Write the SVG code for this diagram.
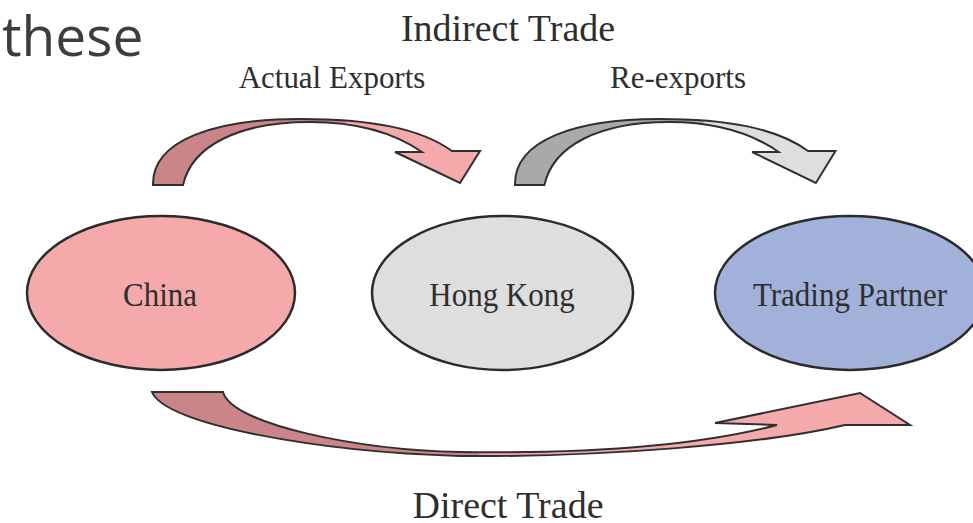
<svg xmlns="http://www.w3.org/2000/svg" xmlns:xlink="http://www.w3.org/1999/xlink" width="973" height="523" viewBox="0 0 973 523">
  <style>
    .node { stroke: #2b2b2b; stroke-width: 2.5; }
    .label { font-family: "Liberation Serif", "Times New Roman", serif; fill: #2e2e2e; text-anchor: middle; }
    .nodeText { font-size: 31px; }
    .title { font-size: 38px; }
    .sub { font-size: 31px; }
    .ribbon { stroke: #2f2f2f; stroke-width: 2; stroke-linejoin: miter; }
  </style>
  <defs>
    <!-- left half of each twisted ribbon is shaded darker than the head half -->
    <linearGradient id="pinkShade" gradientUnits="userSpaceOnUse" x1="0" y1="0" x2="973" y2="0">
      <stop offset="0" stop-color="#c98587"/>
      <stop offset="0.354" stop-color="#c98587"/>
      <stop offset="0.356" stop-color="#f4a9ab"/>
      <stop offset="1" stop-color="#f4a9ab"/>
    </linearGradient>
    <linearGradient id="grayShade" gradientUnits="userSpaceOnUse" x1="0" y1="0" x2="973" y2="0">
      <stop offset="0" stop-color="#a9a9a9"/>
      <stop offset="0.354" stop-color="#a9a9a9"/>
      <stop offset="0.356" stop-color="#dedede"/>
      <stop offset="1" stop-color="#dedede"/>
    </linearGradient>
    <linearGradient id="pinkShadeLong" gradientUnits="userSpaceOnUse" x1="0" y1="0" x2="973" y2="0">
      <stop offset="0" stop-color="#c98587"/>
      <stop offset="0.49" stop-color="#c98587"/>
      <stop offset="0.495" stop-color="#f4a9ab"/>
      <stop offset="1" stop-color="#f4a9ab"/>
    </linearGradient>
    <!-- arched ribbon arrow, base at lower left, head pointing down to the right -->
    <path id="archArrow" d="M153,185 C152,140 215,119 300,119 C370,119 420,128 452,151 L480,151 L460,183 L395,152 L422,152 C390,130 350,122 310,122 C240,122 192,145 183,185 Z"/>
  </defs>

  <rect width="973" height="523" fill="#ffffff"/>

  <text x="2" y="56" font-family="'Open Sans', 'Noto Sans', sans-serif" font-size="55" fill="#3d3d3d">these</text>

  <g id="connectors">
    <g id="actual-exports">
      <use xlink:href="#archArrow" class="ribbon" fill="url(#pinkShade)"/>
    </g>
    <g id="re-exports">
      <use xlink:href="#archArrow" class="ribbon" fill="url(#grayShade)" transform="translate(515,0) scale(0.98,1) translate(-153,0)"/>
    </g>
    <g id="direct-trade">
      <path class="ribbon" fill="url(#pinkShadeLong)" d="M152,392 L223,392 C232,425 360,450 460,452 C600,454 700,445 777,425 L715,423 L860,393 L910,425 L845,425 C760,445 600,457 460,456 C320,452 165,425 152,392 Z"/>
    </g>
  </g>

  <g id="titles">
    <text class="label title" x="508" y="41">Indirect Trade</text>
    <text class="label sub" transform="translate(332,88) scale(1,1.05)">Actual Exports</text>
    <text class="label sub" transform="translate(678,88) scale(1,1.05)">Re-exports</text>
    <text class="label title" x="508" y="518" font-size="37.5">Direct Trade</text>
  </g>

  <g id="china">
    <ellipse class="node" cx="161" cy="293" rx="134" ry="77" fill="#f5a9ab"/>
    <text class="label nodeText" transform="translate(160,306) scale(1,1.1)">China</text>
  </g>
  <g id="hong-kong">
    <ellipse class="node" cx="502.5" cy="293" rx="130.5" ry="77" fill="#dedede"/>
    <text class="label nodeText" transform="translate(502,306) scale(1,1.1)">Hong Kong</text>
  </g>
  <g id="trading-partner">
    <ellipse class="node" cx="850" cy="293" rx="135" ry="77" fill="#a2b1d9"/>
    <text class="label nodeText" transform="translate(850,306) scale(1,1.1)">Trading Partner</text>
  </g>
</svg>
